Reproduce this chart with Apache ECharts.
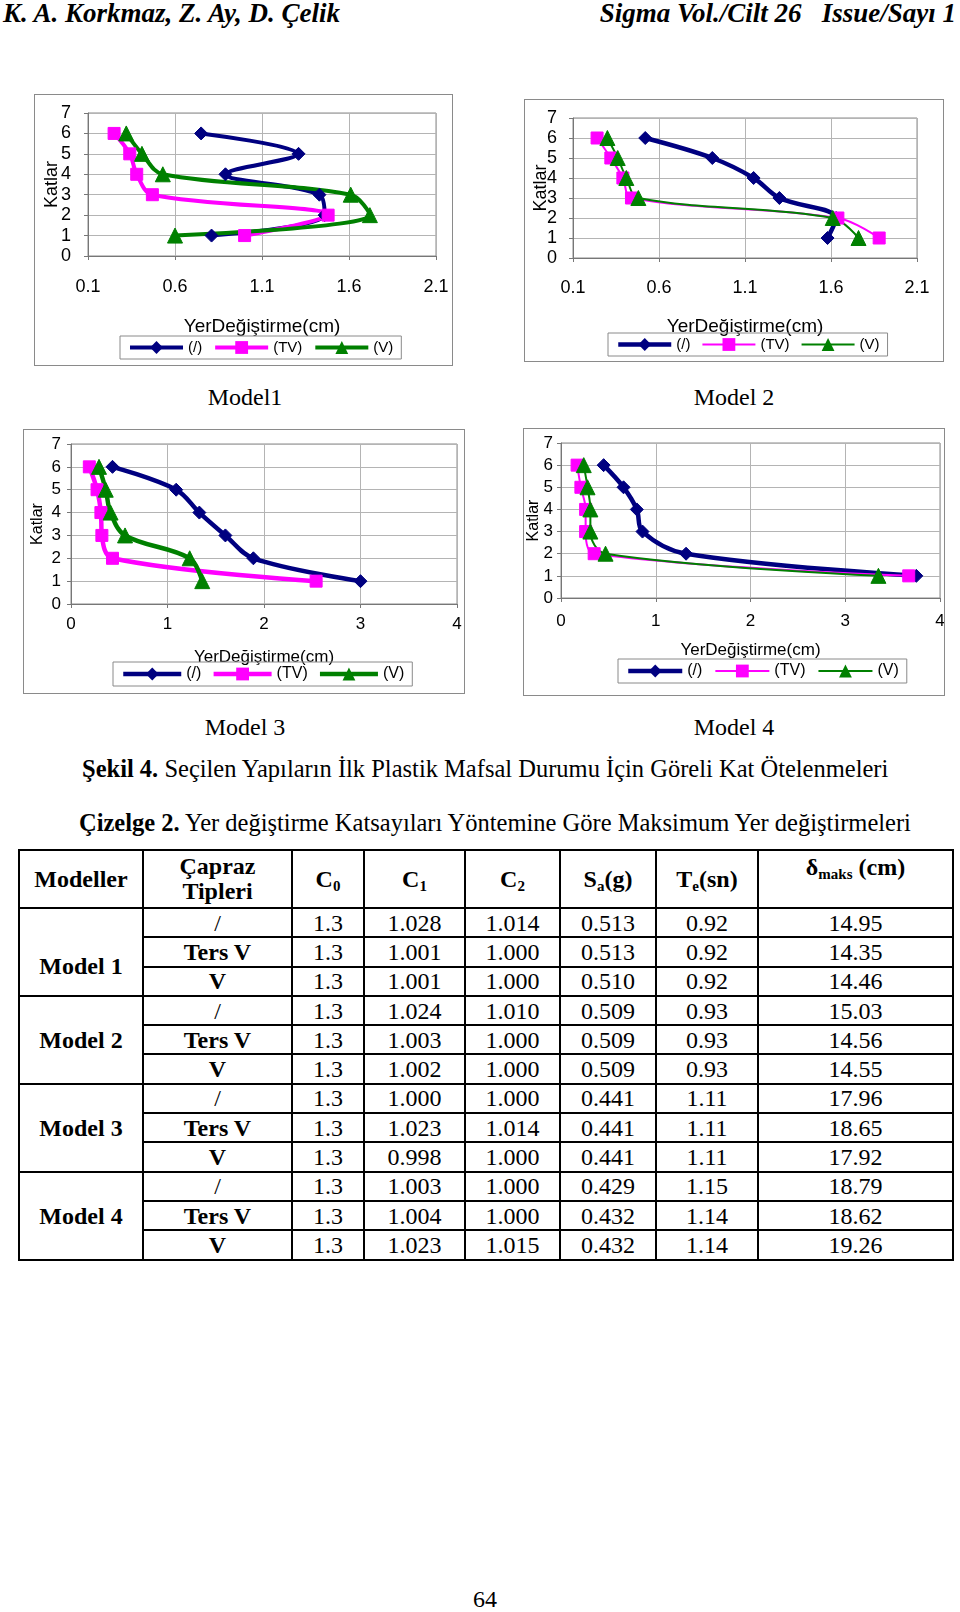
<!DOCTYPE html>
<html><head><meta charset="utf-8">
<script src="https://cdn.jsdelivr.net/npm/echarts@6/dist/echarts.min.js"></script>
<style>
html,body{margin:0;padding:0;background:#fff;}
#page{position:relative;width:960px;height:1612px;overflow:hidden;font-family:"Liberation Serif","Times New Roman",serif;color:#000;}
.abs{position:absolute;white-space:nowrap;}
.chart{position:absolute;box-sizing:border-box;border:1px solid #8a8a8a;background:#fff;}
#tbl{position:absolute;left:18px;top:849px;width:934px;border-collapse:collapse;table-layout:fixed;font-size:24px;}
#tbl td,#tbl th{border:2px solid #000;padding:0;text-align:center;line-height:1;vertical-align:middle;}
#tbl th{font-weight:bold;}
#tbl sub{font-size:15px;vertical-align:-4px;line-height:0;}
.b{font-weight:bold;}
</style></head><body><div id="page">
<div class="abs" style="left:3px;top:0px;font-size:27px;line-height:27px;font-weight:bold;font-style:italic;">K. A. Korkmaz, Z. Ay, D. Çelik</div>
<div class="abs" style="right:4px;top:0px;font-size:27px;line-height:27px;font-weight:bold;font-style:italic;white-space:pre;">Sigma Vol./Cilt 26   Issue/Sayı 1</div>

<div id="c1" class="chart" style="left:34px;top:94px;width:419px;height:272px;"></div>
<div id="c2" class="chart" style="left:524px;top:99px;width:420px;height:263px;"></div>
<div id="c3" class="chart" style="left:23px;top:429px;width:442px;height:265px;"></div>
<div id="c4" class="chart" style="left:523px;top:428px;width:422px;height:268px;"></div>

<div class="abs" style="left:145px;width:200px;text-align:center;top:385px;font-size:24px;line-height:24px;">Model1</div>
<div class="abs" style="left:634px;width:200px;text-align:center;top:385px;font-size:24px;line-height:24px;">Model 2</div>
<div class="abs" style="left:145px;width:200px;text-align:center;top:715px;font-size:24px;line-height:24px;">Model 3</div>
<div class="abs" style="left:634px;width:200px;text-align:center;top:715px;font-size:24px;line-height:24px;">Model 4</div>

<div class="abs" style="left:82px;top:757px;font-size:24.5px;line-height:24px;"><span class="b">Şekil 4.</span> Seçilen Yapıların İlk Plastik Mafsal Durumu İçin Göreli Kat Ötelenmeleri</div>
<div class="abs" style="left:79px;top:811px;font-size:24.5px;line-height:24px;"><span class="b">Çizelge 2.</span> Yer değiştirme Katsayıları Yöntemine Göre Maksimum Yer değiştirmeleri</div>

<table id="tbl"></table>

<div class="abs" style="left:435px;width:100px;text-align:center;top:1587px;font-size:24px;line-height:24px;">64</div>
</div>
<script>
// ---- chart data (x = YerDeğiştirme (cm) for floors 1..6) ----
const floors = [1, 2, 3, 4, 5, 6];
const seriesNames = ["(/)", "(TV)", "(V)"];
const yTicks = [0, 7, 1]; // min, max, interval
// Model 1
const m1Diag = [0.81, 1.46, 1.43, 0.89, 1.31, 0.75];
const m1TV   = [1.00, 1.48, 0.47, 0.38, 0.34, 0.25];
const m1V    = [0.60, 1.72, 1.61, 0.53, 0.41, 0.32];
// Model 2
const m2Diag = [1.58, 1.63, 1.30, 1.15, 0.91, 0.52];
const m2TV   = [1.88, 1.64, 0.44, 0.39, 0.32, 0.24];
const m2V    = [1.76, 1.61, 0.48, 0.41, 0.36, 0.30];
// Model 3
const m3Diag = [3.00, 1.89, 1.60, 1.33, 1.09, 0.43];
const m3TV   = [2.54, 0.43, 0.32, 0.31, 0.27, 0.19];
const m3V    = [1.36, 1.23, 0.56, 0.41, 0.36, 0.29];
// Model 4
const m4Diag = [3.75, 1.32, 0.86, 0.80, 0.66, 0.45];
const m4TV   = [3.67, 0.35, 0.26, 0.26, 0.21, 0.17];
const m4V    = [3.35, 0.47, 0.31, 0.31, 0.28, 0.24];
// x axes: [min, max, interval]
const xAxis12 = [0.1, 2.1, 0.5];
const xAxis34 = [0, 4, 1];

// ---- table data ----
const tblHeader = ["Modeller", "Çapraz<br>Tipleri", "C<sub>0</sub>", "C<sub>1</sub>", "C<sub>2</sub>", "S<sub>a</sub>(g)", "T<sub>e</sub>(sn)", "δ<sub>maks</sub> (cm)"];
const tblModels = ["Model 1", "Model 2", "Model 3", "Model 4"];
const tblTypes = ["/", "Ters V", "V"];
const tblC0 = ["1.3","1.3","1.3","1.3","1.3","1.3","1.3","1.3","1.3","1.3","1.3","1.3"];
const tblC1 = ["1.028","1.001","1.001","1.024","1.003","1.002","1.000","1.023","0.998","1.003","1.004","1.023"];
const tblC2 = ["1.014","1.000","1.000","1.010","1.000","1.000","1.000","1.014","1.000","1.000","1.000","1.015"];
const tblSa = ["0.513","0.513","0.510","0.509","0.509","0.509","0.441","0.441","0.441","0.429","0.432","0.432"];
const tblTe = ["0.92","0.92","0.92","0.93","0.93","0.93","1.11","1.11","1.11","1.15","1.14","1.14"];
const tblDmax = ["14.95","14.35","14.46","15.03","14.56","14.55","17.96","18.65","17.92","18.79","18.62","19.26"];

// ---- build table ----
(function(){
  const colW = [124,149,72,101,95,96,102,195];
  let h = '<colgroup>' + colW.map(w => '<col style="width:' + w + 'px">').join('') + '</colgroup>';
  h += '<tr style="height:58px">' + tblHeader.map((t, i) => {
    if (i === 7) return '<th style="vertical-align:top;padding-top:4px">' + t + '</th>';
    if (i === 1) return '<th style="line-height:25px">' + t + '</th>';
    return '<th>' + t + '</th>';
  }).join('') + '</tr>';
  for (let r = 0; r < 12; r++) {
    h += '<tr style="height:29.3px">';
    if (r % 3 === 0) {
      const m = r / 3;
      const pad = m === 0 ? 'padding-top:28px;' : '';
      h += '<td rowspan="3" class="b" style="' + pad + '">' + tblModels[m] + '</td>';
    }
    const t = tblTypes[r % 3];
    h += '<td' + (t === '/' ? '' : ' class="b"') + '>' + t + '</td>';
    h += '<td>' + tblC0[r] + '</td><td>' + tblC1[r] + '</td><td>' + tblC2[r] + '</td><td>' + tblSa[r] + '</td><td>' + tblTe[r] + '</td><td>' + tblDmax[r] + '</td>';
    h += '</tr>';
  }
  document.getElementById('tbl').innerHTML = h;
})();

// ---- charts ----
const FONT = '"Liberation Sans", Arial, sans-serif';
const NAVY = '#000080', MAG = '#FF00FF', GRN = '#008000';

function makeChart(id, c) {
  const chart = echarts.init(document.getElementById(id), null, {renderer: 'canvas'});
  const off = c.x[0] % c.x[2] === 0 ? 0 : c.x[0]; // shift so ticks start at min
  const mk = (name, xs, sym, color, w, size) => ({
    type: 'line', name: name,
    data: xs.map((x, i) => [x - off, floors[i]]),
    symbol: sym, symbolSize: size, smooth: 0.35,
    lineStyle: {color: color, width: w},
    itemStyle: {color: color, borderColor: color},
    emphasis: {disabled: true}, animation: false
  });
  chart.setOption({
    animation: false,
    textStyle: {fontFamily: FONT},
    grid: Object.assign({show: true, borderColor: '#8a8a8a', borderWidth: 1, backgroundColor: '#fff',
      containLabel: false, outerBoundsMode: 'none'}, c.grid),
    xAxis: {
      type: 'value', min: c.x[0] - off, max: c.x[1] - off, interval: c.x[2],
      name: 'YerDeğiştirme(cm)', nameLocation: 'middle', nameGap: c.xNameGap, nameMoveOverlap: false,
      nameTextStyle: {fontSize: c.nameFs, color: '#000', fontFamily: FONT},
      axisLine: {lineStyle: {color: '#777', width: 1}},
      axisTick: {show: true, length: 4, lineStyle: {color: '#777'}},
      axisLabel: {fontSize: c.tickFs, color: '#000', margin: c.xLabelMargin, fontFamily: FONT,
        hideOverlap: false, formatter: v => off ? (v + off).toFixed(1) : String(v)},
      splitLine: {show: true, lineStyle: {color: '#b4b4b4', width: 1}}
    },
    yAxis: {
      type: 'value', min: yTicks[0], max: yTicks[1], interval: yTicks[2],
      name: 'Katlar', nameLocation: 'middle', nameGap: c.yNameGap, nameRotate: 90, nameMoveOverlap: false,
      nameTextStyle: {fontSize: c.nameFs - 1, color: '#000', fontFamily: FONT},
      axisLine: {show: true, lineStyle: {color: '#777', width: 1}},
      axisTick: {show: true, length: 4, lineStyle: {color: '#777'}},
      axisLabel: {fontSize: c.tickFs, color: '#000', margin: c.yLabelMargin, fontFamily: FONT, hideOverlap: false},
      splitLine: {show: true, lineStyle: {color: '#b4b4b4', width: 1}}
    },
    legend: {
      left: c.legend[0], top: c.legend[1], orient: 'horizontal',
      data: seriesNames.map((n, i) => ({name: n, lineStyle: {width: c.w[i]}})),
      itemWidth: c.legendIconW, itemHeight: 16, itemGap: c.legendGap,
      padding: [4, 8, 4, 8], borderColor: '#8a8a8a', borderWidth: 1,
      textStyle: {fontSize: c.legendFs, color: '#000', fontFamily: FONT},
      selectedMode: false
    },
    series: [
      mk(seriesNames[0], c.d[0], 'diamond', NAVY, c.w[0], 13),
      mk(seriesNames[1], c.d[1], 'rect', MAG, c.w[1], 12),
      mk(seriesNames[2], c.d[2], 'triangle', GRN, c.w[2], 15)
    ]
  });
}

makeChart('c1', {
  x: xAxis12, d: [m1Diag, m1TV, m1V], w: [4, 4, 4],
  grid: {left: 53, top: 18, width: 348, height: 143},
  xNameGap: 61, yNameGap: 27, xLabelMargin: 22, yLabelMargin: 17,
  tickFs: 18, nameFs: 19, legendFs: 15, legend: [85, 241], legendIconW: 53, legendGap: 11
});
makeChart('c2', {
  x: xAxis12, d: [m2Diag, m2TV, m2V], w: [4.5, 2, 2],
  grid: {left: 48, top: 18, width: 344, height: 140},
  xNameGap: 59, yNameGap: 23, xLabelMargin: 21, yLabelMargin: 16,
  tickFs: 18, nameFs: 19, legendFs: 15, legend: [83, 233], legendIconW: 53, legendGap: 11
});
makeChart('c3', {
  x: xAxis34, d: [m3Diag, m3TV, m3V], w: [4.5, 4.5, 4.5],
  grid: {left: 47, top: 14, width: 386, height: 160},
  xNameGap: 45, yNameGap: 25, xLabelMargin: 12, yLabelMargin: 10,
  tickFs: 17, nameFs: 17, legendFs: 16, legend: [89, 232], legendIconW: 58, legendGap: 10
});
makeChart('c4', {
  x: xAxis34, d: [m4Diag, m4TV, m4V], w: [4.5, 2, 2],
  grid: {left: 37, top: 14, width: 379, height: 155},
  xNameGap: 44, yNameGap: 19, xLabelMargin: 15, yLabelMargin: 8,
  tickFs: 17, nameFs: 17, legendFs: 16, legend: [94, 230], legendIconW: 54, legendGap: 12
});
</script>
</body></html>
